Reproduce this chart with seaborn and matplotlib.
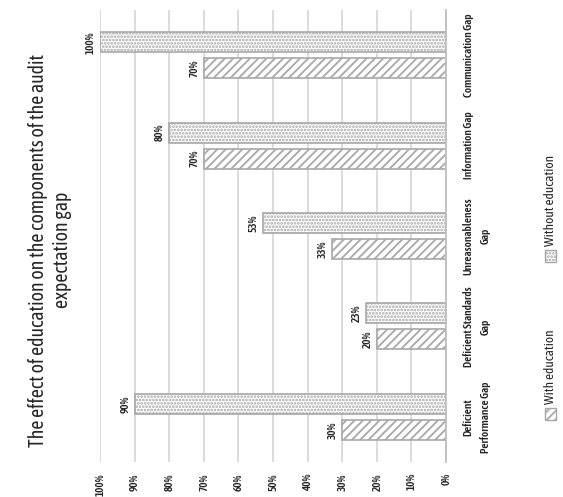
import pandas as pd
import matplotlib
matplotlib.use("Agg")
import matplotlib.pyplot as plt
from matplotlib.patches import Rectangle
import seaborn as sns

# Datos (porcentajes)
categorias = ["Deficient Performance Gap", "Deficient Standards Gap",
              "Unreasonableness Gap", "Information Gap", "Communication Gap"]
etiquetas = ["Deficient\nPerformance Gap", "Deficient Standards\nGap",
             "Unreasonableness\nGap", "Information Gap", "Communication Gap"]
con_educacion = [30, 20, 33, 70, 70]
sin_educacion = [90, 23, 53, 80, 100]
grupos = ["With education", "Without education"]
ticks_pct = [0, 10, 20, 30, 40, 50, 60, 70, 80, 90, 100]

df = pd.DataFrame({
    "categoria": categorias * 2,
    "valor": con_educacion + sin_educacion,
    "grupo": [grupos[0]] * 5 + [grupos[1]] * 5,
})

sns.set_style("white")
# fuente angosta, parecida a la del original
plt.rcParams["font.family"] = ["Asap Condensed", "Archivo Narrow", "DejaVu Sans"]
plt.rcParams["hatch.color"] = "#a8a8a8"
plt.rcParams["hatch.linewidth"] = 1.3

gris = "#a8a8a8"
texto = "#262626"
tramas = {"With education": "////", "Without education": "....."}

fig = plt.figure(figsize=(5.63, 4.97), dpi=100)
# el grafico original esta rotado 90 grados, lo dibujo como barras horizontales
ax = fig.add_axes([100 / 563, 1 - 462 / 497, 346 / 563, 452 / 497])

ax = sns.barplot(data=df, y="categoria", x="valor", hue="grupo",
                 order=categorias[::-1], hue_order=grupos[::-1],
                 orient="h", width=0.575, gap=0.23, palette=["white", "white"],
                 legend=False, ax=ax)

ax.set_xlim(100, 0)

for cont, g in zip(ax.containers, grupos[::-1]):
    for barra in cont:
        barra.set_edgecolor(gris)
        barra.set_linewidth(1.2)
        barra.set_hatch(tramas[g])
    ax.bar_label(cont, labels=[f"{int(v)}%" for v in cont.datavalues],
                 padding=3, rotation=90, fontsize=8, fontweight=600,
                 color=texto)

ax.set_xticks(ticks_pct)
ax.set_xticklabels([f"{t}%" for t in ticks_pct], rotation=90, va="top",
                   ha="center", fontsize=8, fontweight=600, color=texto)
ax.xaxis.grid(True, color="#d9d9d9", linewidth=1.3)
ax.set_axisbelow(True)

ax.yaxis.tick_right()
ax.set_yticks(range(5))
ax.set_yticklabels(etiquetas[::-1], rotation=90, va="center", ha="left",
                   multialignment="center", linespacing=1.7, fontsize=8,
                   fontweight=600, color=texto)
ax.tick_params(axis="both", length=0)
ax.tick_params(axis="x", pad=8)
ax.tick_params(axis="y", pad=12)
ax.set_xlabel("")
ax.set_ylabel("")

for lado in ["top", "bottom", "left"]:
    ax.spines[lado].set_visible(False)
ax.spines["right"].set_color("#bfbfbf")
ax.spines["right"].set_linewidth(1.3)

fig.text(50 / 563, 1 - 250 / 497,
         "The effect of education on the components of the audit\nexpectation gap",
         rotation=90, ha="center", va="center", multialignment="center",
         fontsize=14.2, color=texto)

# leyenda dibujada a mano porque va girada
posiciones = {"With education": 414, "Without education": 256}
for g in grupos:
    y = posiciones[g]
    fig.patches.append(Rectangle((545 / 563, 1 - (y + 6) / 497), 11 / 563, 12 / 497,
                                 transform=fig.transFigure, facecolor="white",
                                 edgecolor=gris, hatch=tramas[g], linewidth=1))
    fig.text(551 / 563, 1 - (y - 10) / 497, g, rotation=90, ha="center",
             va="bottom", fontsize=9.5, color=texto)

fig.savefig("out.png", dpi=100)
